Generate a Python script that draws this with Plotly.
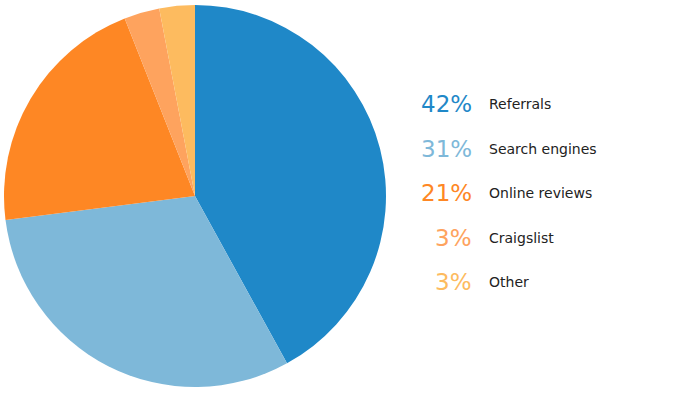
import plotly.graph_objects as go

# data
labels = ['Referrals', 'Search engines', 'Online reviews', 'Craigslist', 'Other']
values = [42, 31, 21, 3, 3]
colors = ['#1f88c8', '#7eb8d9', '#fe8724', '#fea35e', '#fdbb5f']

W, H = 675, 409

fig = go.Figure()
fig.add_trace(go.Pie(
    labels=labels, values=values, sort=False, direction='clockwise', rotation=0,
    marker=dict(colors=colors, line=dict(width=0)),
    textinfo='none', hoverinfo='label+percent', showlegend=False,
    domain=dict(x=[4 / W, 386 / W], y=[1 - 387 / H, 1 - 5 / H]),
))

# legend drawn as text
row_y = [104, 149, 193, 238, 282]
for lab, val, col, yy in zip(labels, values, colors, row_y):
    fig.add_annotation(x=474 / W, y=1 - yy / H, xref='paper', yref='paper',
                       text=f'{val}%', showarrow=False, xanchor='right', yanchor='middle',
                       font=dict(family='Verdana, DejaVu Sans', size=23, color=col))
    fig.add_annotation(x=487 / W, y=1 - yy / H, xref='paper', yref='paper',
                       text=lab, showarrow=False, xanchor='left', yanchor='middle',
                       font=dict(family='Verdana, DejaVu Sans', size=14, color='#222222'))

fig.update_layout(
    width=W, height=H,
    margin=dict(l=0, r=0, t=0, b=0),
    paper_bgcolor='white', plot_bgcolor='white',
)

# drop the browser's default page margin so the chart sits at 0,0
fig.write_html("out.html", config={'displayModeBar': False},
               post_script="document.body.style.margin='0';")
